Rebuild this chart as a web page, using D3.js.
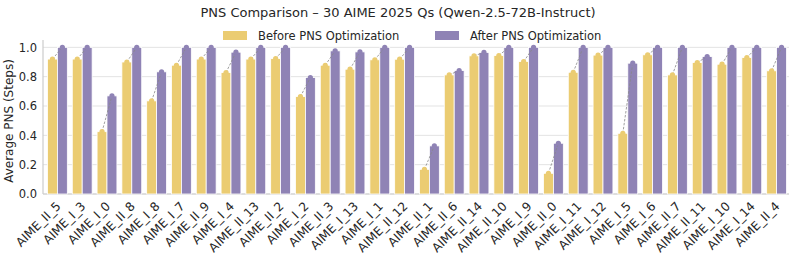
<!DOCTYPE html>
<html>
<head>
<meta charset="utf-8">
<script src="https://cdn.jsdelivr.net/npm/d3@7"></script>
<style>
  body { margin: 0; background: #fff; }
  svg { display: block; font-family: 'DejaVu Sans', sans-serif; }
</style>
</head>
<body>
<svg id="chart"></svg>
<script>
const WIDTH = 797
const HEIGHT = 261
const PAD = { top: 40, right: 8, bottom: 67, left: 43 }

const questions = [
    'AIME_II_5', 'AIME_I_3', 'AIME_I_0', 'AIME_II_8', 'AIME_I_8', 'AIME_I_7',
    'AIME_II_9', 'AIME_I_4', 'AIME_II_13', 'AIME_II_2', 'AIME_I_2', 'AIME_II_3',
    'AIME_I_13', 'AIME_I_1', 'AIME_II_12', 'AIME_II_1', 'AIME_II_6', 'AIME_II_14',
    'AIME_II_10', 'AIME_I_9', 'AIME_II_0', 'AIME_I_11', 'AIME_I_12', 'AIME_I_5',
    'AIME_I_6', 'AIME_II_7', 'AIME_II_11', 'AIME_I_10', 'AIME_I_14', 'AIME_II_4',
]
const beforeValues = [
    0.92, 0.92, 0.425, 0.90, 0.635, 0.878,
    0.92, 0.828, 0.92, 0.923, 0.664, 0.878,
    0.851, 0.915, 0.919, 0.168, 0.812, 0.942,
    0.944, 0.903, 0.141, 0.83, 0.947, 0.414,
    0.949, 0.812, 0.896, 0.885, 0.93, 0.84,
]
const afterValues = [
    1.0, 1.0, 0.669, 1.0, 0.833, 1.0,
    1.0, 0.967, 1.0, 1.0, 0.794, 0.976,
    0.969, 1.0, 1.0, 0.328, 0.842, 0.965,
    1.0, 1.0, 0.346, 1.0, 1.0, 0.892,
    1.0, 1.0, 0.937, 1.0, 1.0, 1.0,
]
const seriesNames = ['Before PNS Optimization', 'After PNS Optimization']
const yTicks = [0.0, 0.2, 0.4, 0.6, 0.8, 1.0]

const COLORS = ['#ebcc72', '#8f83b5']

const svg = d3.select('#chart')
    .attr('width', WIDTH)
    .attr('height', HEIGHT)
    .attr('viewBox', `0 0 ${WIDTH} ${HEIGHT}`)

const x = d3.scaleBand()
    .domain(questions)
    .range([PAD.left + 2, WIDTH - PAD.right])
    .paddingInner(0.2)
    .paddingOuter(0.1)
const xSub = d3.scaleBand()
    .domain([0, 1])
    .range([0, x.bandwidth()])
const y = d3.scaleLinear()
    .domain([0, 1.05])
    .range([HEIGHT - PAD.bottom, PAD.top])

// Grid
svg.append('g')
    .selectAll('line')
    .data(yTicks)
    .join('line')
    .attr('x1', PAD.left)
    .attr('x2', WIDTH - PAD.right)
    .attr('y1', d => y(d))
    .attr('y2', d => y(d))
    .attr('stroke', '#e3e3e3')
    .attr('stroke-width', 1)

// Y axis
const yAxis = d3.axisLeft(y).tickValues(yTicks).tickFormat(d3.format('.1f')).tickSize(0).tickPadding(6)
const yAxisGroup = svg.append('g')
    .attr('transform', `translate(${PAD.left},0)`)
    .call(yAxis)
yAxisGroup.select('.domain').remove()
yAxisGroup.selectAll('text').attr('font-size', 11.5).attr('fill', '#262626').attr('font-family', 'DejaVu Sans')

// Spines
svg.append('line')
    .attr('x1', PAD.left).attr('x2', PAD.left)
    .attr('y1', PAD.top).attr('y2', y(0))
    .attr('stroke', '#cccccc').attr('stroke-width', 1.2)
svg.append('line')
    .attr('x1', PAD.left).attr('x2', WIDTH - PAD.right)
    .attr('y1', y(0)).attr('y2', y(0))
    .attr('stroke', '#cccccc').attr('stroke-width', 1.2)

const rows = questions.map((q, i) => ({ q, vals: [beforeValues[i], afterValues[i]] }))

// Bars
const groups = svg.append('g')
    .selectAll('g')
    .data(rows)
    .join('g')
    .attr('transform', d => `translate(${x(d.q)},0)`)

groups.selectAll('rect')
    .data(d => d.vals.map((v, k) => ({ v, k })))
    .join('rect')
    .attr('x', d => xSub(d.k))
    .attr('width', xSub.bandwidth())
    .attr('y', d => y(d.v))
    .attr('height', d => y(0) - y(d.v))
    .attr('fill', d => COLORS[d.k])
    .attr('stroke', '#ffffff')
    .attr('stroke-width', 0.8)

// Connectors
groups.append('line')
    .attr('x1', xSub(0) + xSub.bandwidth() / 2)
    .attr('x2', xSub(1) + xSub.bandwidth() / 2)
    .attr('y1', d => y(d.vals[0]))
    .attr('y2', d => y(d.vals[1]))
    .attr('stroke', '#888888')
    .attr('stroke-width', 0.8)
    .attr('stroke-dasharray', '2.5,1.5')

// Markers
groups.selectAll('circle')
    .data(d => d.vals.map((v, k) => ({ v, k })))
    .join('circle')
    .attr('cx', d => xSub(d.k) + xSub.bandwidth() / 2)
    .attr('cy', d => y(d.v))
    .attr('r', 2.6)
    .attr('fill', d => COLORS[d.k])

// X axis labels
const xAxis = d3.axisBottom(x).tickSize(0).tickPadding(0)
const xAxisGroup = svg.append('g')
    .attr('transform', `translate(0,${y(0)})`)
    .call(xAxis)
xAxisGroup.select('.domain').remove()
xAxisGroup.selectAll('text')
    .attr('font-size', 12.2)
    .attr('fill', '#262626')
    .attr('font-family', 'DejaVu Sans')
    .attr('text-anchor', 'end')
    .attr('dy', null)
    .attr('y', 0)
    .attr('transform', 'translate(4,13) rotate(-45)')

// Y label
svg.append('text')
    .attr('transform', `translate(13,${(PAD.top + y(0)) / 2 + 4}) rotate(-90)`)
    .attr('text-anchor', 'middle')
    .attr('font-size', 12)
    .attr('fill', '#262626')
    .text('Average PNS (Steps)')

// Title
svg.append('text')
    .attr('x', 398)
    .attr('y', 17)
    .attr('text-anchor', 'middle')
    .attr('font-size', 13)
    .attr('fill', '#262626')
    .text('PNS Comparison – 30 AIME 2025 Qs (Qwen-2.5-72B-Instruct)')

// Legend
const legend = svg.append('g').attr('transform', 'translate(223,31)')
const legendX = [0, 212]
seriesNames.forEach((name, k) => {
    const item = legend.append('g').attr('transform', `translate(${legendX[k]},0)`)
    item.append('rect')
        .attr('width', 24).attr('height', 9)
        .attr('fill', COLORS[k])
    item.append('text')
        .attr('x', 35).attr('y', 9)
        .attr('font-size', 11.5)
        .attr('fill', '#262626')
        .text(name)
})
</script>
</body>
</html>
